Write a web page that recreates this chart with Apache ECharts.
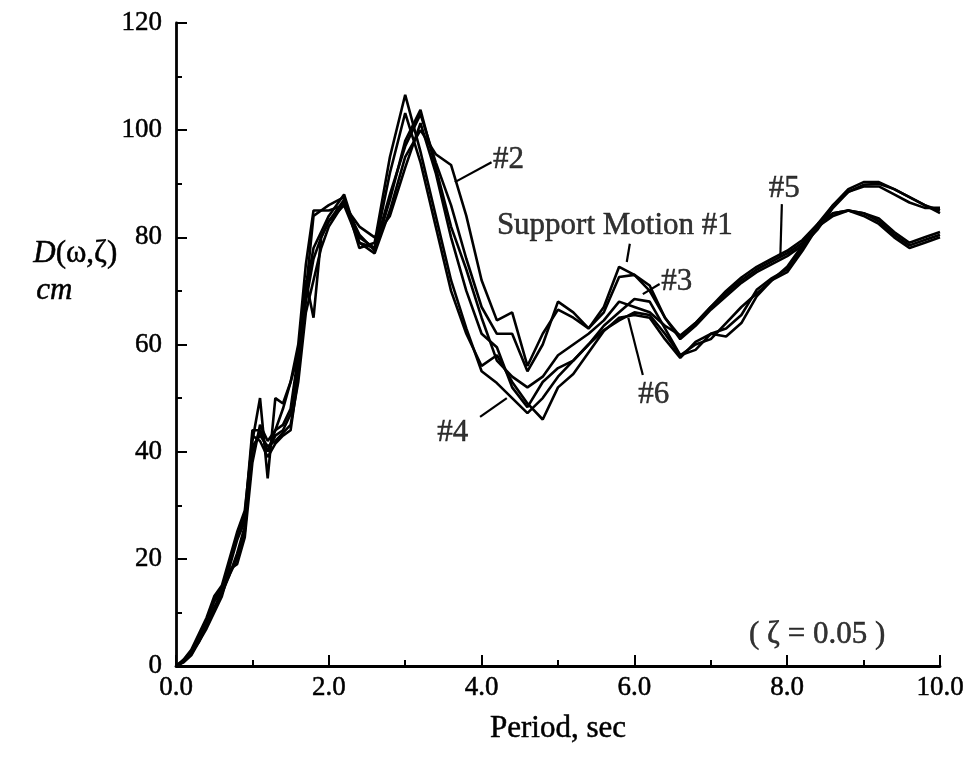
<!DOCTYPE html>
<html>
<head>
<meta charset="utf-8">
<script src="https://cdn.jsdelivr.net/npm/echarts@6/dist/echarts.min.js"></script>
<style>
  html, body { margin: 0; padding: 0; background: #fff; }
  #chart { width: 974px; height: 760px; }
</style>
</head>
<body>
<div id="chart"></div>
<script>
// Period grid (sec): 0.1 steps up to 2.0, then 0.2 steps to 10.0
const periods = [
  0, 0.1, 0.2, 0.3, 0.4, 0.5, 0.6, 0.7, 0.8, 0.9, 1.0, 1.1, 1.2, 1.3, 1.4, 1.5, 1.6, 1.7, 1.8, 1.9, 2.0,
  2.2, 2.4, 2.6, 2.8, 3.0, 3.2, 3.4, 3.6, 3.8, 4.0, 4.2, 4.4, 4.6, 4.8, 5.0, 5.2, 5.4, 5.6, 5.8, 6.0,
  6.2, 6.4, 6.6, 6.8, 7.0, 7.2, 7.4, 7.6, 7.8, 8.0, 8.2, 8.4, 8.6, 8.8, 9.0, 9.2, 9.4, 9.6, 9.8, 10.0
];

// Displacement spectra D(ω,ζ) in cm for each support motion
const motion1 = [
  0, 0.8, 2.5, 4.5, 7.5, 10.5, 14, 17, 21, 26, 40, 44, 40, 43, 44, 47, 56, 68, 76, 80, 83,
  87, 80, 78, 88, 97, 103, 94, 86, 76, 67, 62, 62, 55, 60, 68, 66, 63, 67, 74.5, 73,
  70, 65, 61.5, 64, 67, 69.5, 72, 74, 75.5, 77, 79, 82, 86, 89, 90.3, 90.3, 89, 87.5, 86, 84.5
];
const motion2 = [
  0, 1, 2.8, 5, 8.5, 12, 14, 18.5, 23.5, 27, 43, 42, 39, 41.5, 43, 44, 54, 70, 78, 81, 84,
  88, 79, 77, 85, 95, 100, 95.5, 93.5, 84, 72, 64.5, 66, 56, 62, 66.5, 65, 63, 66, 72.6, 73,
  71, 65, 61, 63.5, 66.5, 69, 71.5, 73.5, 75, 76.5, 78.5, 81.5, 85.5, 88.5, 89.5, 89.5, 88, 86.5, 85.5, 85.5
];
const motion3 = [
  0, 0.7, 2, 4.5, 7, 10, 13, 18, 19, 24, 38, 45, 42, 44, 48, 53, 58, 70, 84, 85, 85,
  86, 82, 80, 84, 93, 101.3, 92, 80, 70, 62, 59.5, 52, 48.3, 53, 55.6, 57, 60, 63.5, 66, 68.5,
  68, 63, 58, 59, 62, 63, 65.5, 70.2, 72.4, 74, 78, 82, 84, 85, 84.5, 83, 80.5, 78.5, 79.5, 80.5
];
const motion4 = [
  0, 1.2, 3, 6, 9, 13, 15, 20, 25, 29, 42, 50, 35, 50, 49, 53, 60, 75, 85, 85, 86,
  87.5, 78, 79, 95, 106.6, 96, 84, 72, 63, 55, 52.8, 50, 47.2, 50, 54, 57, 60, 62.7, 64.5, 66,
  65.5, 62, 58, 60, 61, 64, 67, 69.5, 72, 74.5, 78.5, 82.5, 84.5, 85, 84.5, 83.5, 81, 79, 80, 81
];
const motion5 = [
  0, 0.9, 2.2, 5, 8, 11, 13.5, 17, 20, 25, 41, 43, 41, 42, 43.5, 45, 53, 66, 72, 78, 82,
  86.5, 80.5, 77.5, 87, 98, 103.8, 93, 82, 74, 65, 57, 54, 52, 54, 58, 60, 62, 64.5, 68, 67,
  66, 63.5, 61.7, 64, 67, 70, 72.5, 74.5, 76, 77.5, 79.5, 82.5, 86, 88.5, 89.8, 90, 89, 87.5, 86, 85
];
const motion6 = [
  0, 1, 2.5, 5.5, 8.5, 12.5, 14.5, 19, 24, 28, 44, 44, 40, 44, 45, 48, 58, 72, 65, 80, 83,
  86, 79, 78, 92, 103.2, 94, 82, 70, 62, 56, 58, 53, 49, 46, 52, 54.5, 58.5, 62.5, 65, 65.5,
  65, 61, 57.5, 60.5, 62, 61.5, 64, 69, 72, 73.5, 77.5, 82, 84.5, 85, 84, 82.5, 80, 78, 79, 80
];

const seriesNames = ['#1', '#2', '#3', '#4', '#5', '#6'];
const seriesValues = [motion1, motion2, motion3, motion4, motion5, motion6];

// Callout labels [text, period, D] (text anchored at its left-middle)
const calloutText = [
  ['#2', 4.15, 94.4],
  ['Support Motion #1', 4.2, 82.2],
  ['#3', 6.35, 71.7],
  ['#6', 6.05, 50.6],
  ['#4', 3.42, 43.6],
  ['#5', 7.76, 89.0],
  ['( \u03B6 = 0.05 )', 7.5, 5.8]
];
// Leader lines [period0, D0, period1, D1]
const leaders = [
  [3.65, 90.3, 4.13, 94.0],
  [5.94, 78.8, 5.9, 75.4],
  [6.33, 71.3, 6.11, 69.4],
  [6.11, 54.3, 5.92, 65.0],
  [3.98, 46.5, 4.33, 50.0],
  [7.93, 86.2, 7.91, 76.4]
];

const FONT = '"Liberation Serif", "DejaVu Serif", serif';
const TICK_SIZE = 27;
const TEXT_SIZE = 31;
// slight outline gives the text the weight of the printed figure
const INK = { color: '#000', textBorderColor: '#000', textBorderWidth: 0.5 };

const chart = echarts.init(document.getElementById('chart'), null, { renderer: 'canvas' });

const curveSeries = seriesValues.map((vals, i) => ({
  name: seriesNames[i],
  type: 'line',
  data: periods.map((p, k) => [p, vals[k]]),
  symbol: 'none',
  smooth: false,
  lineStyle: { color: '#000', width: 2.6 },
  z: 3
}));

const notesSeries = {
  name: 'notes',
  type: 'scatter',
  symbolSize: 0,
  data: calloutText.map(c => ({ value: [c[1], c[2]], name: c[0] })),
  label: Object.assign({
    show: true,
    position: 'right',
    distance: 0,
    formatter: p => p.name,
    fontFamily: FONT,
    fontSize: TEXT_SIZE
  }, INK),
  silent: true,
  markLine: {
    silent: true,
    symbol: ['none', 'none'],
    label: { show: false },
    lineStyle: { color: '#000', width: 2.2, type: 'solid' },
    data: leaders.map(l => [{ coord: [l[0], l[1]] }, { coord: [l[2], l[3]] }])
  },
  z: 4
};

chart.setOption({
  backgroundColor: '#fff',
  animation: false,
  grid: { left: 176, right: 34, top: 23, bottom: 94 },
  xAxis: {
    type: 'value',
    min: 0,
    max: 10,
    interval: 2,
    name: 'Period, sec',
    nameLocation: 'middle',
    nameGap: 47,
    nameTextStyle: Object.assign({ fontFamily: FONT, fontSize: TEXT_SIZE }, INK),
    axisLine: { show: true, lineStyle: { color: '#000', width: 2.8 } },
    axisTick: { show: true, inside: true, length: 11, lineStyle: { color: '#000', width: 2 } },
    minorTick: { show: true, splitNumber: 2, length: 6, lineStyle: { color: '#000', width: 2 } },
    axisLabel: Object.assign({
      fontFamily: FONT, fontSize: TICK_SIZE, margin: 8,
      formatter: v => v.toFixed(1)
    }, INK),
    splitLine: { show: false }
  },
  yAxis: {
    type: 'value',
    min: 0,
    max: 120,
    interval: 20,
    axisLine: { show: true, lineStyle: { color: '#000', width: 2.8 } },
    axisTick: { show: true, inside: true, length: 11, lineStyle: { color: '#000', width: 2 } },
    minorTick: { show: true, splitNumber: 2, length: 6, lineStyle: { color: '#000', width: 2 } },
    axisLabel: Object.assign({ fontFamily: FONT, fontSize: TICK_SIZE, margin: 14 }, INK),
    splitLine: { show: false }
  },
  graphic: [
    {
      type: 'text',
      left: 33,
      top: 238,
      style: {
        text: '{i|D}{n|(\u03C9,\u03B6)}',
        rich: {
          i: { fontFamily: FONT, fontSize: TEXT_SIZE, fontStyle: 'italic', fill: '#000', stroke: '#000', lineWidth: 0.5 },
          n: { fontFamily: FONT, fontSize: TEXT_SIZE, fill: '#000', stroke: '#000', lineWidth: 0.5 }
        }
      }
    },
    {
      type: 'text',
      left: 36,
      top: 275,
      style: { text: 'cm', fontFamily: FONT, fontSize: TEXT_SIZE, fontStyle: 'italic', fill: '#000', stroke: '#000', lineWidth: 0.5 }
    }
  ],
  series: curveSeries.concat([notesSeries])
});
</script>
</body>
</html>
